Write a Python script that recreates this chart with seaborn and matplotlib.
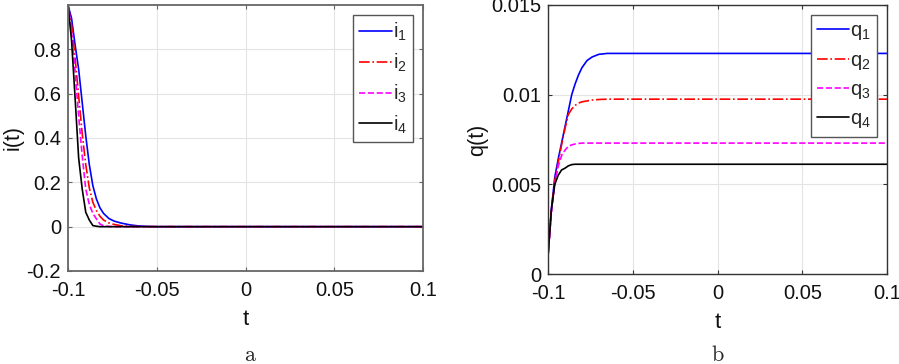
import numpy as np
import pandas as pd
import matplotlib
matplotlib.use("Agg")
import matplotlib.pyplot as plt
import seaborn as sns

# ---------------- data ----------------
t = [-0.1, -0.098, -0.096, -0.094, -0.092, -0.090, -0.088, -0.086, -0.084,
     -0.082, -0.080, -0.077, -0.074, -0.070, -0.065, -0.060, -0.055, -0.05, 0.1]

i1 = [1.0, 0.94, 0.82, 0.71, 0.56, 0.41, 0.28, 0.185, 0.125,
      0.085, 0.06, 0.037, 0.025, 0.016, 0.008, 0.003, 0.001, 0.0, 0.0]
i2 = [1.0, 0.91, 0.76, 0.59, 0.42, 0.28, 0.175, 0.11, 0.073,
      0.047, 0.03, 0.017, 0.010, 0.004, 0.001, 0.0, 0.0, 0.0, 0.0]
i3 = [1.0, 0.88, 0.70, 0.50, 0.32, 0.17, 0.10, 0.06, 0.035,
      0.012, 0.004, 0.001, 0.0, 0.0, 0.0, 0.0, 0.0, 0.0, 0.0]
i4 = [1.0, 0.84, 0.58, 0.31, 0.17, 0.065, 0.03, 0.005, 0.002,
      0.0, 0.0, 0.0, 0.0, 0.0, 0.0, 0.0, 0.0, 0.0, 0.0]

q1 = [0.001, 0.0036, 0.0054, 0.0064, 0.0073, 0.0082, 0.0091, 0.0100, 0.0106,
      0.0111, 0.0115, 0.0119, 0.0121, 0.01225, 0.0123, 0.0123, 0.0123, 0.0123, 0.0123]
q2 = [0.001, 0.0036, 0.0052, 0.0062, 0.0072, 0.0081, 0.0089, 0.0092, 0.0094,
      0.00953, 0.0096, 0.00965, 0.0097, 0.00973, 0.00975, 0.00975, 0.00975, 0.00975, 0.00975]
q3 = [0.001, 0.0034, 0.0050, 0.0060, 0.0066, 0.0069, 0.00712, 0.0072, 0.00725,
      0.00728, 0.0073, 0.0073, 0.0073, 0.0073, 0.0073, 0.0073, 0.0073, 0.0073, 0.0073]
q4 = [0.001, 0.0036, 0.0050, 0.0055, 0.0058, 0.0059, 0.00603, 0.0061, 0.00612,
      0.00612, 0.00612, 0.00612, 0.00612, 0.00612, 0.00612, 0.00612, 0.00612, 0.00612, 0.00612]

i_labels = [r"i$_{\rm 1}$", r"i$_{\rm 2}$", r"i$_{\rm 3}$", r"i$_{\rm 4}$"]
q_labels = [r"q$_{\rm 1}$", r"q$_{\rm 2}$", r"q$_{\rm 3}$", r"q$_{\rm 4}$"]

x_ticks = [-0.1, -0.05, 0, 0.05, 0.1]
x_ticklabels = ["-0.1", "-0.05", "0", "0.05", "0.1"]
i_ticks = [-0.2, 0, 0.2, 0.4, 0.6, 0.8]
i_ticklabels = ["-0.2", "0", "0.2", "0.4", "0.6", "0.8"]
q_ticks = [0, 0.005, 0.01, 0.015]
q_ticklabels = ["0", "0.005", "0.01", "0.015"]

# ---------------- style ----------------
sns.set_theme(style="white")
plt.rcParams["font.family"] = ["Liberation Sans", "DejaVu Sans"]
plt.rcParams["mathtext.fontset"] = "custom"
plt.rcParams["mathtext.rm"] = "Liberation Sans"
plt.rcParams["mathtext.it"] = "Liberation Sans"
plt.rcParams["axes.unicode_minus"] = False

colors = ["#0000ff", "#ff0000", "#ff00ff", "#000000"]
styles = ["-", "-.", "--", "-"]

fig = plt.figure(figsize=(8.99, 3.64), dpi=100)
axL = fig.add_axes([68 / 899, 1 - 271 / 364, 355 / 899, 266 / 364])
axR = fig.add_axes([548 / 899, 1 - 274 / 364, 339 / 899, 269 / 364])

def draw(ax, series, labels):
    for vals, lab, c, ls in zip(series, labels, colors, styles):
        sns.lineplot(x=t, y=vals, ax=ax, color=c, linestyle=ls, linewidth=1.2,
                     label=lab, estimator=None, sort=False)

draw(axL, [i1, i2, i3, i4], i_labels)
draw(axR, [q1, q2, q3, q4], q_labels)

axL.set_xlim(-0.1, 0.1)
axL.set_ylim(-0.2, 1.0)
axL.set_yticks(i_ticks)
axL.set_yticklabels(i_ticklabels)
axR.set_xlim(-0.1, 0.1)
axR.set_ylim(0, 0.015)
axR.set_yticks(q_ticks)
axR.set_yticklabels(q_ticklabels)

for ax, ylab, sc in [(axL, "i(t)", "#666666"), (axR, "q(t)", "#333333")]:
    ax.set_xticks(x_ticks)
    ax.set_xticklabels(x_ticklabels)
    ax.grid(True, color="#e4e4e4", linewidth=0.8)
    ax.set_axisbelow(True)
    ax.tick_params(direction="in", length=3, width=0.8, top=True, right=True,
                   bottom=True, left=True, labelsize=14.5, colors=sc,
                   labelcolor="#111111")
    ax.tick_params(axis="x", pad=7)
    ax.tick_params(axis="y", pad=5)
    for s in ax.spines.values():
        s.set_visible(True)
        s.set_color(sc)
        s.set_linewidth(1.3 if ax is axL else 1.0)
    ax.set_xlabel("t", fontsize=16, labelpad=7, color="#111111")
    ax.set_ylabel(ylab, fontsize=15.5, labelpad=2, color="#111111")
    leg = ax.legend(loc="upper right", fontsize=14.5, frameon=True, fancybox=False,
                    edgecolor="#555555", framealpha=1.0, handlelength=1.6,
                    handletextpad=0.05, labelspacing=0.42, borderpad=0.3,
                    borderaxespad=0.5)
    leg.get_frame().set_linewidth(1.0)

fig.text(250 / 899, 1 - 355 / 364, "a", fontfamily="cmr10", fontsize=16,
         ha="center", va="center")
fig.text(718 / 899, 1 - 355 / 364, "b", fontfamily="cmr10", fontsize=16,
         ha="center", va="center")

fig.savefig("out.png", dpi=100)
